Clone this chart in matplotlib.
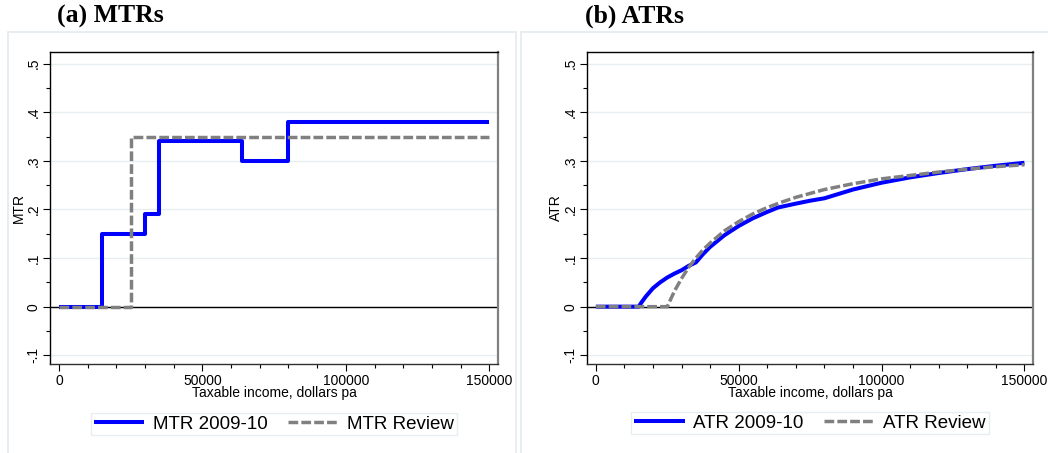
import matplotlib
matplotlib.use("Agg")
import matplotlib.pyplot as plt
from matplotlib.patches import Rectangle
from matplotlib.ticker import MultipleLocator, FixedLocator

# ---- data ----
mtr_income_0910 = [0, 15000, 30000, 35000, 63750, 80000, 150000]
mtr_0910 = [0.0, 0.15, 0.19, 0.34, 0.30, 0.38, 0.38]
mtr_income_review = [0, 25000, 150000]
mtr_review = [0.0, 0.35, 0.35]

atr_income_0910 = [0, 15000, 16000, 17500, 20000, 22500, 25000, 27500, 30000, 32500,
                   35000, 37500, 40000, 45000, 50000, 55000, 60000, 63750, 70000,
                   75000, 80000, 90000, 100000, 110000, 120000, 130000, 140000, 150000]
atr_0910 = [0.0, 0.0, 0.009, 0.021, 0.038, 0.050, 0.060, 0.068, 0.075, 0.084,
            0.091, 0.108, 0.123, 0.147, 0.166, 0.182, 0.195, 0.204, 0.212,
            0.218, 0.223, 0.241, 0.255, 0.266, 0.275, 0.283, 0.290, 0.296]
atr_income_review = [0, 25000, 27500, 30000, 32500, 35000, 37500, 40000, 45000, 50000,
                     55000, 60000, 65000, 70000, 80000, 90000, 100000, 110000, 120000,
                     130000, 140000, 150000]
atr_review = [0.0, 0.0, 0.032, 0.058, 0.081, 0.100, 0.117, 0.131, 0.156, 0.175,
              0.191, 0.204, 0.215, 0.225, 0.241, 0.253, 0.263, 0.270, 0.277,
              0.283, 0.288, 0.292]

y_ticks = [-0.1, 0.0, 0.1, 0.2, 0.3, 0.4, 0.5]
y_tick_labels = ["-.1", "0", ".1", ".2", ".3", ".4", ".5"]
x_ticks = [0, 50000, 100000, 150000]
x_tick_labels = ["0", "50000", "100000", "150000"]

panel_titles = ["(a) MTRs", "(b) ATRs"]
y_labels = ["MTR", "ATR"]
x_label = "Taxable income, dollars pa"
legend_labels = [["MTR 2009-10", "MTR Review"], ["ATR 2009-10", "ATR Review"]]

# ---- styling ----
plt.rcParams['font.family'] = ['Liberation Sans', 'DejaVu Sans']
W, H = 1048, 453
fig = plt.figure(figsize=(W / 100, H / 100), dpi=100)

BLUE = "#0000ff"
GREY = "#808080"
GRID = "#e6eef0"
FRAME = "#e3eaee"
FS = 10

# panel frames (Stata graph regions)
fig.patches.append(Rectangle((8 / W, -0.05), (516 - 8) / W, 1 - 32 / H + 0.05,
                             transform=fig.transFigure, fill=False,
                             edgecolor=FRAME, lw=1.2))
fig.patches.append(Rectangle((521 / W, -0.05), (1060 - 521) / W, 1 - 32 / H + 0.05,
                             transform=fig.transFigure, fill=False,
                             edgecolor=FRAME, lw=1.2))

axes_px = [(50, 498), (587, 1033)]
top_px, bot_px = 52, 364
legend_centers = [(274, 424), (810, 423)]
title_x = [57, 585]

series = [
    ((mtr_income_0910, mtr_0910), (mtr_income_review, mtr_review), 'steps-post'),
    ((atr_income_0910, atr_0910), (atr_income_review, atr_review), 'default'),
]

for i, (x0, x1) in enumerate(axes_px):
    ax = fig.add_axes([x0 / W, 1 - bot_px / H, (x1 - x0) / W, (bot_px - top_px) / H])
    (xa, ya), (xb, yb), ds = series[i]
    for yt in y_ticks:
        ax.axhline(yt, color=GRID, lw=1.0, zorder=0)
    ax.axhline(0, color='black', lw=1.0, zorder=1)
    ax.plot(xa, ya, color=BLUE, lw=2.9, drawstyle=ds, solid_capstyle='butt',
            label=legend_labels[i][0], zorder=3)
    ax.plot(xb, yb, color=GREY, lw=2.5, drawstyle=ds, dashes=(2.8, 0.9),
            dash_capstyle='butt', label=legend_labels[i][1], zorder=4)

    ax.set_xlim(-3100, 153000)
    ax.set_ylim(-0.118, 0.524)
    ax.set_yticks(y_ticks)
    ax.set_yticklabels(y_tick_labels, rotation=90, va='center', fontsize=FS)
    ax.yaxis.set_minor_locator(FixedLocator([-0.05, 0.05, 0.15, 0.25, 0.35, 0.45]))
    ax.set_xticks(x_ticks)
    ax.set_xticklabels(x_tick_labels, fontsize=FS)
    ax.xaxis.set_minor_locator(MultipleLocator(10000))
    ax.tick_params(axis='both', which='major', length=5, width=0.8, pad=2)
    ax.tick_params(axis='both', which='minor', length=3, width=0.8)
    ax.set_ylabel(y_labels[i], fontsize=FS, labelpad=0)
    ax.set_xlabel(x_label, fontsize=FS, labelpad=-1)
    for s in ['left', 'top']:
        ax.spines[s].set_color('black')
        ax.spines[s].set_linewidth(1.0)
    ax.spines['right'].set_color(GREY)
    ax.spines['right'].set_linewidth(1.6)
    ax.spines['bottom'].set_color('#303030')
    ax.spines['bottom'].set_linewidth(1.0)

    cx, cy = legend_centers[i]
    leg = fig.legend(*ax.get_legend_handles_labels(), loc='center',
                     bbox_to_anchor=(cx / W, 1 - cy / H), ncol=2, fontsize=13.5,
                     handlelength=2.7, handletextpad=0.45, columnspacing=1.1,
                     borderpad=0.15, borderaxespad=0, fancybox=False, framealpha=1)
    leg.get_frame().set_edgecolor(GRID)
    leg.get_frame().set_linewidth(1.0)

    fig.text(title_x[i] / W, 1 - 16 / H, panel_titles[i], fontsize=18.5,
             fontweight='bold', family=['Liberation Serif', 'DejaVu Serif'],
             ha='left', va='center')

fig.savefig("out.png", dpi=100)
